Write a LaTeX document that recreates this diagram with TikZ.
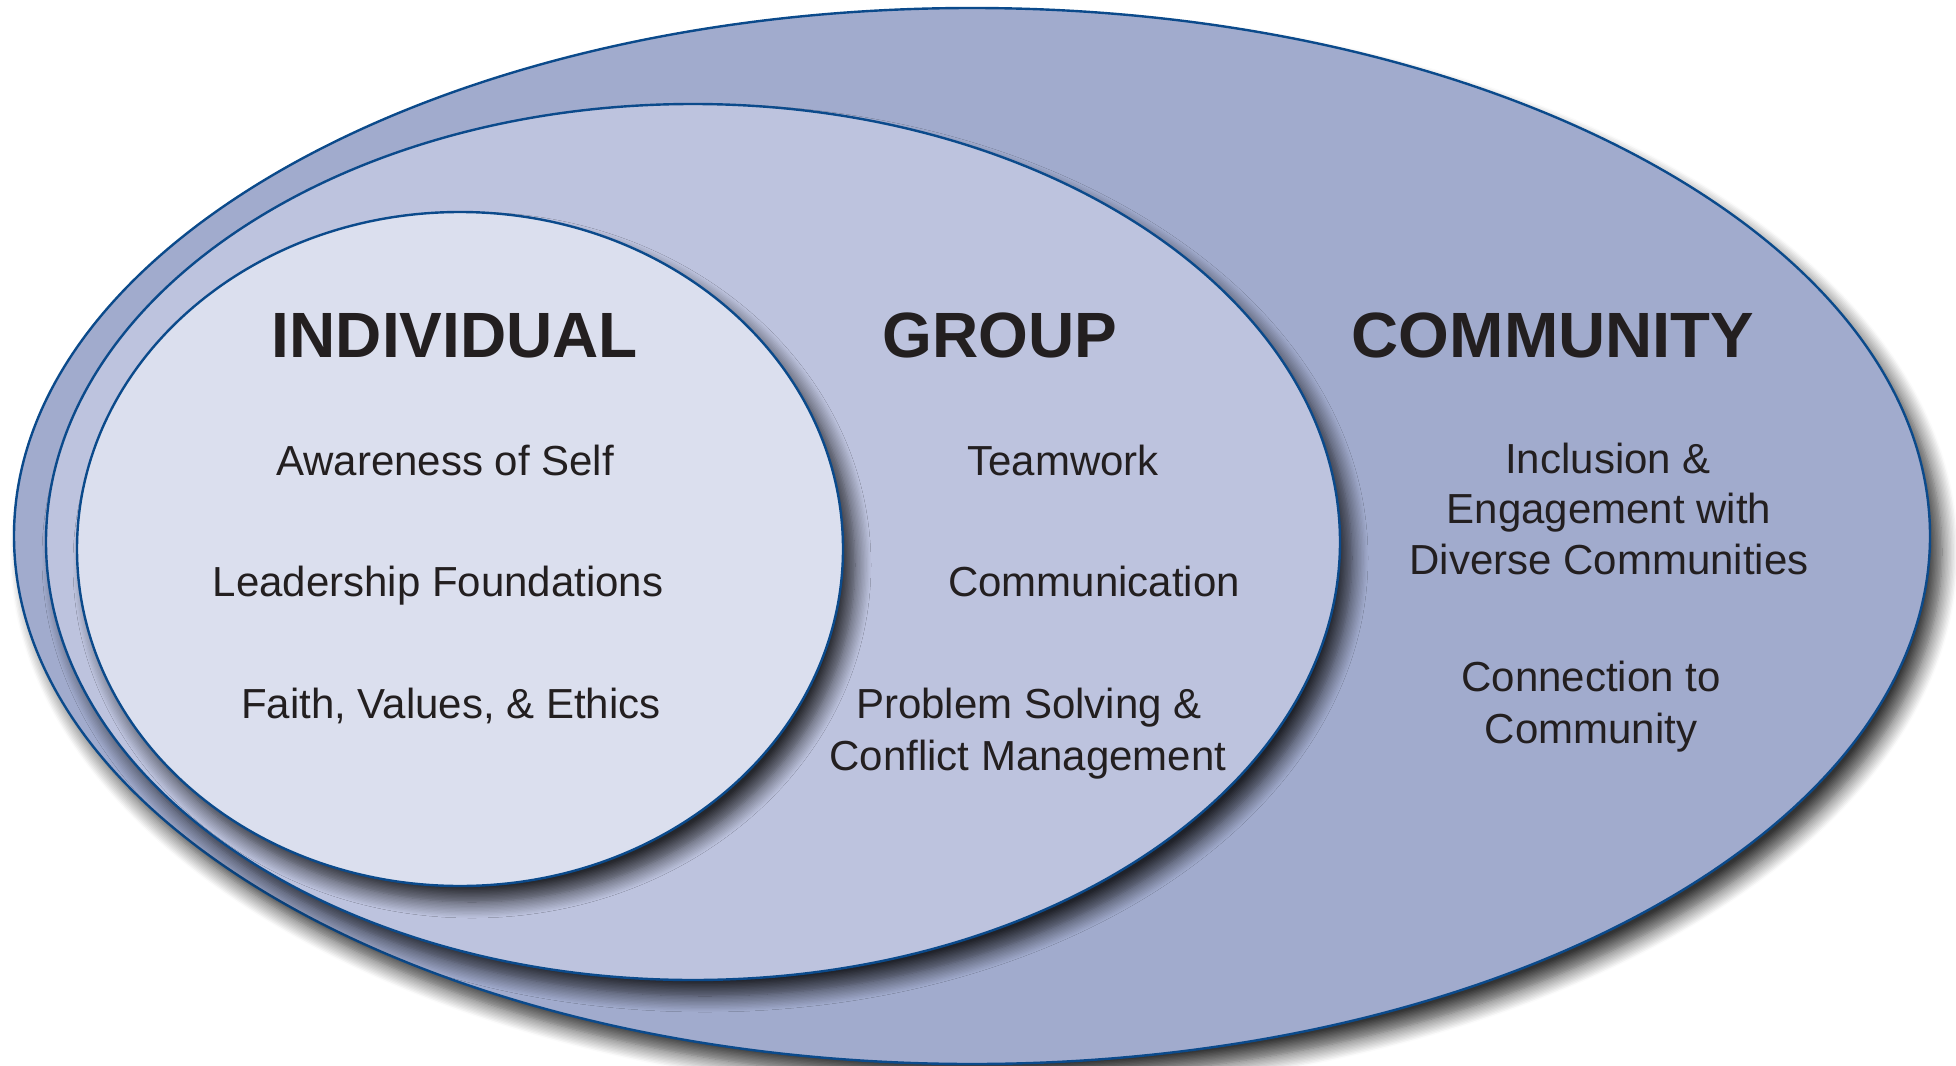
\documentclass[tikz,border=0pt]{standalone}
\usepackage{fontspec}
\setmainfont{Liberation Sans}
\usetikzlibrary{shadows.blur}
\definecolor{ringouter}{HTML}{A1ABCD}
\definecolor{ringmiddle}{HTML}{BDC3DE}
\definecolor{ringinner}{HTML}{DBDFEE}
\definecolor{ringedge}{HTML}{0B4A8B}
\definecolor{ink}{HTML}{231F20}
\begin{document}
\begin{tikzpicture}[x=1pt,y=-1pt,
  ring/.style={draw=ringedge, line width=2.4pt,
    blur shadow={shadow xshift=12pt, shadow yshift=-16pt,
      shadow blur radius=16pt, shadow blur steps=12, shadow opacity=80}},
  title/.style={font=\fontsize{64}{64}\selectfont\bfseries, text=ink,
    anchor=base, inner sep=0pt},
  item/.style={font=\fontsize{42}{52}\selectfont, text=ink,
    anchor=base, inner sep=0pt}]
\useasboundingbox (0,0) rectangle (1956,1065);

% nested spheres of development
\path[ring, fill=ringouter]  (972,536) ellipse [x radius=958pt, y radius=528pt];
\path[ring, fill=ringmiddle] (693,542) ellipse [x radius=647pt, y radius=438pt];
\path[ring, fill=ringinner]  (460,549) ellipse [x radius=383pt, y radius=337pt];

% headings
\node[title] (individual) at (455,357)  {INDIVIDUAL};
\node[title] (group)      at (1000,357) {GROUP};
\node[title,xscale=1.02] (community)  at (1553,357) {COMMUNITY};

% individual
\node[item] (awareness)  at (445,475) {Awareness of Self};
\node[item] (leadership) at (438,596) {Leadership Foundations};
\node[item] (faith)      at (451,718) {Faith, Values, \& Ethics};

% group
\node[item] (teamwork)      at (1063,475) {Teamwork};
\node[item] (communication) at (1094,596) {Communication};
\node[item] (problem)       at (1029,718) {Problem Solving \&};
\node[item] (conflict)      at (1028,770) {Conflict Management};

% community
\node[item] (inclusion)   at (1608,473) {Inclusion \&};
\node[item] (engagement)  at (1609,523) {Engagement with};
\node[item] (diverse)     at (1609,574) {Diverse Communities};
\node[item] (connection)  at (1591,691) {Connection to};
\node[item] (communityln) at (1591,743) {Community};
\end{tikzpicture}
\end{document}
